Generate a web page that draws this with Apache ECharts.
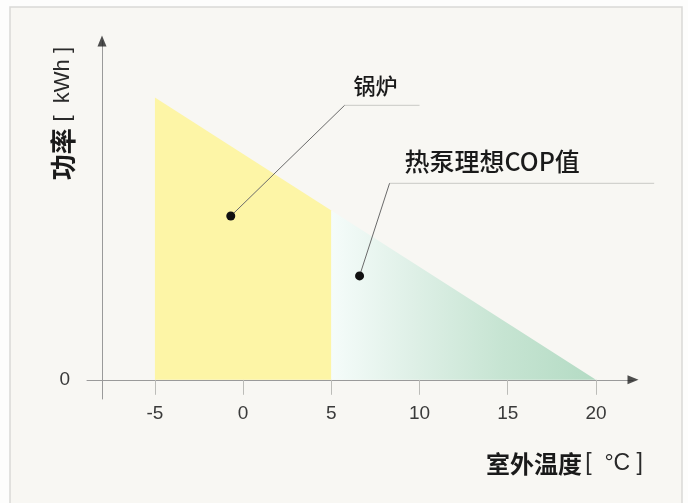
<!DOCTYPE html>
<html>
<head>
<meta charset="utf-8">
<script src="https://cdn.jsdelivr.net/npm/echarts@6/dist/echarts.min.js"></script>
<style>
  html, body { margin: 0; padding: 0; background: #fdfdfc; }
  #chart { width: 688px; height: 503px; }
</style>
</head>
<body>
<div id="chart"></div>
<script>
// 数据
const xTicks = [-5, 0, 5, 10, 15, 20];
const yTicks = [0];
const boilerLine = [[-5, 25], [5, 15]];        // 锅炉
const heatPumpLine = [[5, 15], [20, 0]];       // 热泵理想COP值
// 标注：圆点 -> 折点 -> 横线终点
const noteNames = ['锅炉', '热泵理想COP值'];
const noteDots = [[-0.7, 14.5], [6.6, 9.2]];
const noteElbows = [[5.75, 24.3], [8.3, 17.4]];
const noteEnds = [10, 23.3];
const noteFont = [22, 25];
// 坐标轴箭头位置
const axisArrows = [[22.1, 0, -90], [-8, 30, 0]];

const chart = echarts.init(document.getElementById('chart'));

const noteData = noteNames.map((n, i) => [noteDots[i][0], noteDots[i][1], noteElbows[i][0], noteElbows[i][1], noteEnds[i], i]);

function renderNote(params, api) {
  const i = api.value(5);
  const dot = api.coord([api.value(0), api.value(1)]);
  const elb = api.coord([api.value(2), api.value(3)]);
  const end = api.coord([api.value(4), api.value(3)]);
  return {
    type: 'group',
    children: [{
      type: 'line',
      shape: { x1: elb[0], y1: elb[1], x2: end[0], y2: end[1] },
      style: { stroke: '#d2d2ce', lineWidth: 1.3 }
    }, {
      type: 'line',
      shape: { x1: dot[0], y1: dot[1], x2: elb[0], y2: elb[1] },
      style: { stroke: '#6a6a6a', lineWidth: 1 }
    }, {
      type: 'circle',
      shape: { cx: dot[0], cy: dot[1], r: 4.5 },
      style: { fill: '#111' }
    }, {
      type: 'text',
      x: elb[0] + (i === 0 ? 9 : 15),
      y: elb[1] - (i === 0 ? 20 : 22),
      style: {
        text: noteNames[i],
        fill: '#1a1a1a',
        fontSize: noteFont[i],
        fontWeight: 500,
        fontFamily: 'Noto Sans CJK SC',
        verticalAlign: 'middle',
        align: 'left'
      }
    }]
  };
}

const option = {
  animation: false,
  backgroundColor: 'transparent',
  graphic: [{
    type: 'rect',
    shape: { x: 10, y: 7, width: 672, height: 510 },
    style: { fill: '#f8f7f3', stroke: '#d9d9d6', lineWidth: 1.5 },
    z: -10
  }],
  grid: { left: 87, right: 55, top: 41, bottom: 104 },
  xAxis: {
    type: 'value',
    min: -8.85,
    max: 22.1,
    splitLine: { show: false },
    axisLine: {
      onZero: true,
      lineStyle: { color: '#9a9a9a', width: 1 }
    },
    axisTick: {
      customValues: xTicks,
      length: 15,
      lineStyle: { color: '#bcbcb8' }
    },
    axisLabel: {
      customValues: xTicks,
      margin: 5,
      color: '#3a3a3a',
      fontSize: 19,
      fontFamily: 'Liberation Sans'
    },
    name: '{b|室外温度} {l|[  °C ]}',
    nameLocation: 'end',
    nameGap: 0,
    nameTextStyle: {
      rich: {
        b: { fontSize: 24, fontWeight: 'bold', color: '#1a1a1a', fontFamily: 'Noto Sans CJK SC' },
        l: { fontSize: 23, color: '#2a2a2a', fontFamily: 'Liberation Sans' }
      },
      align: 'right',
      verticalAlign: 'top',
      padding: [72, -10, 0, 0]
    }
  },
  yAxis: {
    type: 'value',
    min: -1.7,
    max: 30,
    offset: -15,
    splitLine: { show: false },
    axisLine: {
      show: true,
      onZero: false,
      lineStyle: { color: '#9a9a9a', width: 1 }
    },
    axisTick: { show: false },
    axisLabel: {
      customValues: yTicks,
      margin: 32,
      color: '#3a3a3a',
      fontSize: 19,
      fontFamily: 'Liberation Sans'
    },
    name: '{b|功率}  {l|[  kWh ]}',
    nameLocation: 'end',
    nameRotate: 90,
    nameGap: 0,
    nameTextStyle: {
      rich: {
        b: { fontSize: 26, fontWeight: 'bold', color: '#1a1a1a', fontFamily: 'Noto Sans CJK SC' },
        l: { fontSize: 22, color: '#2a2a2a', fontFamily: 'Liberation Sans' }
      },
      align: 'right',
      verticalAlign: 'bottom',
      padding: [0, 6, 26, 0]
    }
  },
  series: [{
    name: '锅炉',
    type: 'line',
    data: boilerLine,
    symbol: 'none',
    lineStyle: { width: 0 },
    areaStyle: { color: '#fdf5a6', opacity: 1 },
    z: 2
  }, {
    name: '热泵理想COP值',
    type: 'line',
    data: heatPumpLine,
    symbol: 'none',
    lineStyle: { width: 0 },
    areaStyle: {
      opacity: 1,
      color: new echarts.graphic.LinearGradient(0, 0, 1, 0, [
        { offset: 0, color: '#f5fcfa' },
        { offset: 0.3, color: '#dff0e7' },
        { offset: 0.65, color: '#c6e4d2' },
        { offset: 1, color: '#b4dbc4' }
      ])
    },
    z: 2
  }, {
    type: 'scatter',
    data: axisArrows,
    clip: false,
    symbol: 'triangle',
    symbolSize: [9, 11],
    symbolRotate: (v) => v[2],
    itemStyle: { color: '#222' },
    z: 7,
    silent: true
  }, {
    type: 'custom',
    data: noteData,
    clip: false,
    renderItem: renderNote,
    z: 6,
    silent: true
  }]
};

chart.setOption(option);
</script>
</body>
</html>
